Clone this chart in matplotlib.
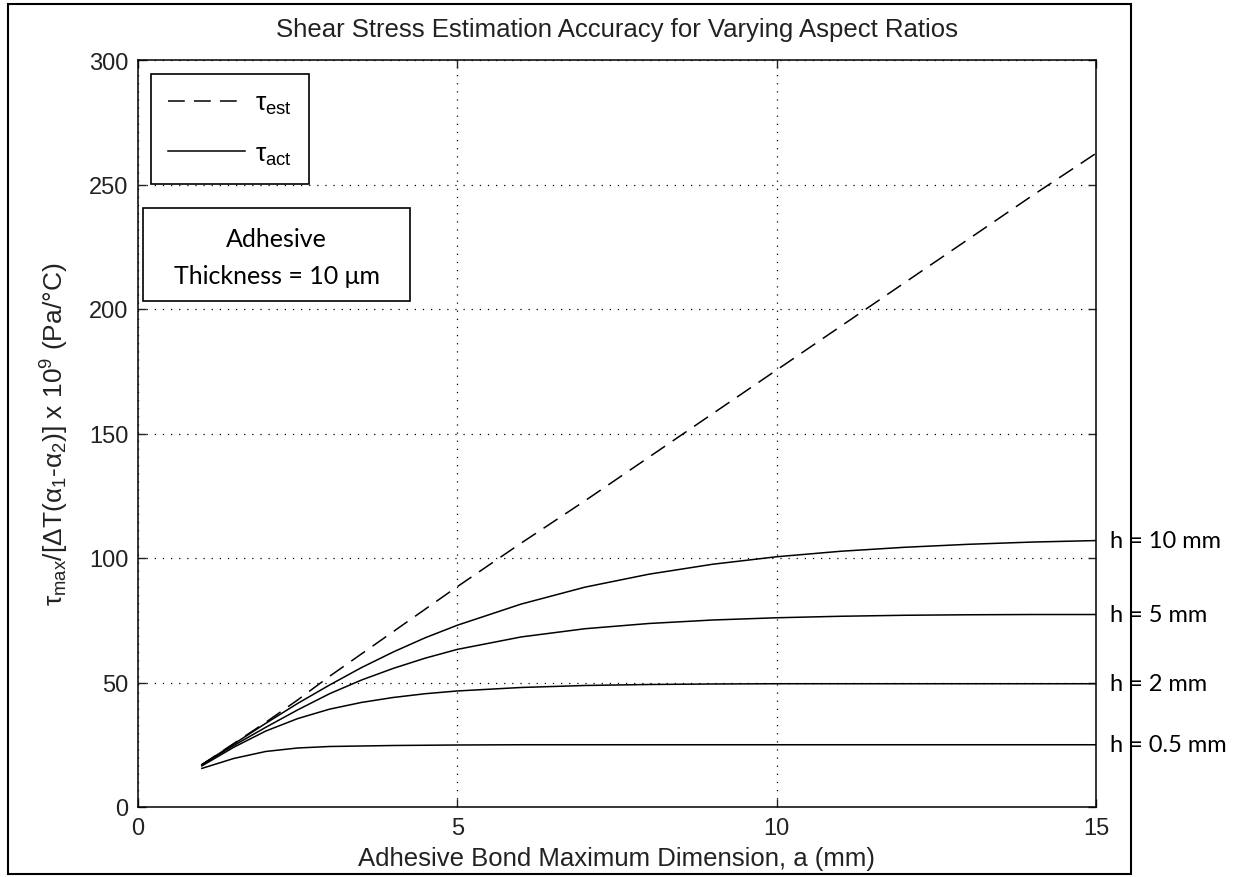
import matplotlib
matplotlib.use("Agg")
import matplotlib.pyplot as plt
from matplotlib.lines import Line2D
from matplotlib.patches import Rectangle

# ---------------- data ----------------
a_vals = [1, 1.5, 2, 2.5, 3, 3.5, 4, 4.5, 5, 6, 7, 8, 9, 10, 11, 12, 13, 14, 15]
tau_est = [17, 25.5, 34, 43, 52.5, 61.5, 70.5, 79.5, 88.5, 106, 123, 140.5, 158, 175.5, 193, 210.5, 228, 245.5, 262.5]
tau_h10 = [17, 25.3, 33.6, 41.6, 49, 56, 62.3, 68, 73, 81.5, 88.3, 93.5, 97.5, 100.5, 102.7, 104.3, 105.5, 106.4, 107]
tau_h5 = [17, 24.7, 32, 39, 45.5, 51, 55.7, 59.8, 63.3, 68.3, 71.6, 73.7, 75.1, 76, 76.6, 77, 77.2, 77.3, 77.3]
tau_h2 = [16.5, 24, 30.5, 35.5, 39.3, 42, 44, 45.5, 46.6, 48, 48.8, 49.2, 49.4, 49.5, 49.5, 49.5, 49.5, 49.5, 49.5]
tau_h05 = [15.5, 19.5, 22.3, 23.7, 24.3, 24.5, 24.7, 24.8, 24.9, 25, 25, 25, 25, 25, 25, 25, 25, 25, 25]
act_series = [tau_h10, tau_h5, tau_h2, tau_h05]
h_labels = ["h = 10 mm", "h = 5 mm", "h = 2 mm", "h = 0.5 mm"]

x_ticks = [0, 5, 10, 15]
y_ticks = [0, 50, 100, 150, 200, 250, 300]

# ---------------- style ----------------
plt.rcParams["font.family"] = ["Liberation Sans", "DejaVu Sans"]
plt.rcParams["mathtext.fontset"] = "custom"
plt.rcParams["mathtext.rm"] = "Liberation Sans"
plt.rcParams["mathtext.it"] = "Liberation Sans"
plt.rcParams["mathtext.bf"] = "Liberation Sans:bold"

W, H = 1252, 878
fig = plt.figure(figsize=(W / 100, H / 100), dpi=100)
fig.patch.set_facecolor("white")

def fx(px):
    return px / W

def fy(py):
    return 1 - py / H

ax = fig.add_axes([fx(138), fy(808), fx(1096) - fx(138), fy(61) - fy(808)])

lw = 1.1
dash = (0, (11, 6))
ax.plot(a_vals, tau_est, color="black", lw=lw, linestyle=dash)
for s in act_series:
    ax.plot(a_vals, s, color="black", lw=lw)

ax.set_xlim(0, 15)
ax.set_ylim(0, 300)
ax.set_xticks(x_ticks)
ax.set_yticks(y_ticks)
ax.grid(True, color="black", linestyle=(0, (1, 5.5)), lw=0.9)
ax.tick_params(direction="in", length=6, width=1.0, top=True, right=True,
               labelsize=17, colors="#222222", pad=7)
for sp in ax.spines.values():
    sp.set_linewidth(1.1)

txtc = "#222222"
ax.set_title("Shear Stress Estimation Accuracy for Varying Aspect Ratios",
             fontsize=18.5, color=txtc, pad=17)
ax.set_xlabel("Adhesive Bond Maximum Dimension, a (mm)", fontsize=18.5,
              color=txtc, labelpad=5)
ax.set_ylabel(r"$\tau_{max}$/[$\Delta$T($\alpha_1$-$\alpha_2$)] x 10$^9$ (Pa/°C)",
              fontsize=19, color=txtc, labelpad=13)

# legend
handles = [Line2D([], [], color="black", lw=lw, linestyle=dash),
           Line2D([], [], color="black", lw=lw)]
leg = ax.legend(handles, [r"$\tau_{est}$", r"$\tau_{act}$"], loc="upper left",
                bbox_to_anchor=(fx(151), fy(75)), bbox_transform=fig.transFigure,
                borderaxespad=0, fancybox=False, framealpha=1, edgecolor="black",
                fontsize=19, handlelength=2.9, handletextpad=0.4,
                labelspacing=0.95, borderpad=0.65)
leg.get_frame().set_linewidth(1.2)

# h labels at the right end of each curve
for s, lab in zip(act_series, h_labels):
    ax.annotate(lab, xy=(a_vals[-1], s[-1]), xytext=(10, 0),
                textcoords="offset points", va="center", ha="left",
                fontsize=17, family=["Lato", "Open Sans", "DejaVu Sans"],
                annotation_clip=False, color="black")

# text box
fig.add_artist(Rectangle((fx(143), fy(302)), fx(410) - fx(143), fy(209) - fy(302),
                         transform=fig.transFigure, fill=True, facecolor="white",
                         edgecolor="black", lw=1.2, zorder=5))
fig.text(fx(276.5), fy(240), "Adhesive", ha="center", va="center", fontsize=18,
         family=["Lato", "Open Sans", "DejaVu Sans"], zorder=6)
fig.text(fx(276.5), fy(277), "Thickness = 10 μm", ha="center", va="center", fontsize=18,
         family=["Lato", "Open Sans", "DejaVu Sans"], zorder=6)

# outer border
fig.add_artist(Rectangle((fx(8), fy(875)), fx(1131) - fx(8), fy(5) - fy(875),
                         transform=fig.transFigure, fill=False,
                         edgecolor="black", lw=1.5, zorder=10))

fig.savefig("out.png", dpi=100)
